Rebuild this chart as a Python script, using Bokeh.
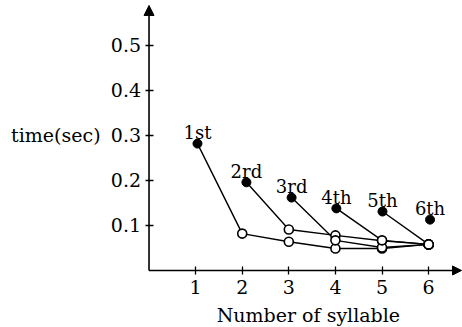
from bokeh.plotting import figure
from bokeh.models import Range1d, FixedTicker, Arrow, NormalHead, Label, ColumnDataSource
from bokeh.core.properties import value
from bokeh.embed import file_html
from bokeh.resources import INLINE

# ---- data ----
syllables = [1, 2, 3, 4, 5, 6]
series_labels = ["1st", "2rd", "3rd", "4th", "5th", "6th"]
first_x = [1.04, 2.09, 3.06, 4.02, 5.01, 6.03]
first_t = [0.282, 0.196, 0.162, 0.138, 0.131, 0.113]
later_t = [
    [0.082, 0.064, 0.049, 0.049, 0.058],  # 1st, syllables 2..6
    [0.091, 0.078, 0.066, 0.058],         # 2rd, syllables 3..6
    [0.067, 0.051, 0.058],                # 3rd, syllables 4..6
    [0.067, 0.058],                       # 4th, syllables 5..6
    [0.058],                              # 5th, syllable 6
    [],                                   # 6th
]
y_ticks = [0.1, 0.2, 0.3, 0.4, 0.5]
y_tick_labels = ["0.1", "0.2", "0.3", "0.4", "0.5"]
x_tick_labels = ["1", "2", "3", "4", "5", "6"]

FONT = "DejaVu Serif"

X0, X1 = -3.187, 6.727
Y0, Y1 = -0.1267, 0.6

p = figure(width=462, height=327, x_range=Range1d(X0, X1), y_range=Range1d(Y0, Y1),
           output_backend="svg", toolbar_location=None, min_border=0,
           background_fill_color="white", border_fill_color="white")
p.outline_line_color = None
p.grid.visible = False

for ax in (p.xaxis[0], p.yaxis[0]):
    ax.fixed_location = 0
    ax.axis_line_color = None
    ax.major_tick_in = 4
    ax.major_tick_out = 4
    ax.major_tick_line_width = 1.3
    ax.major_tick_line_color = "black"
    ax.minor_tick_line_color = None
    ax.major_label_text_font = FONT
    ax.major_label_text_font_size = "19px"
    ax.major_label_text_color = "black"

p.xaxis.ticker = FixedTicker(ticks=syllables)
p.xaxis.major_label_overrides = {s: l for s, l in zip(syllables, x_tick_labels)}
p.xaxis.major_label_standoff = 6
p.yaxis.ticker = FixedTicker(ticks=y_ticks)
p.yaxis.major_label_overrides = {t: l for t, l in zip(y_ticks, y_tick_labels)}
p.yaxis.major_label_standoff = 4

# axis lines with arrow heads
p.add_layout(Arrow(x_start=0, y_start=0, x_end=6.706, y_end=0, line_width=1.6,
                   end=NormalHead(size=9, fill_color="black", line_color="black", line_width=1)))
p.add_layout(Arrow(x_start=0, y_start=0, x_end=0, y_end=0.589, line_width=1.6,
                   end=NormalHead(size=10, fill_color="black", line_color="black", line_width=1)))

# series
open_x, open_y = [], []
for i in range(len(series_labels)):
    xs = [first_x[i]] + syllables[i + 1:]
    ys = [first_t[i]] + later_t[i]
    if len(xs) > 1:
        p.line(xs, ys, line_color="black", line_width=1.4)
    open_x += syllables[i + 1:]
    open_y += later_t[i]

p.scatter(open_x, open_y, size=9, marker="circle", fill_color="white",
          line_color="black", line_width=1.6)
p.scatter(first_x, first_t, size=9, marker="circle", fill_color="black",
          line_color="black")

lab_src = ColumnDataSource(dict(x=first_x, y=first_t, t=series_labels))
p.text(x="x", y="y", text="t", source=lab_src, text_align="center",
       text_baseline="alphabetic", y_offset=-11, text_font=value(FONT),
       text_font_size="18px", text_color="black")

p.add_layout(Label(x=-1.04, y=0.3, text="time(sec)", text_align="right",
                   text_baseline="middle", text_font=FONT, text_font_size="19px",
                   text_color="black"))
p.add_layout(Label(x=3.42, y=-0.099, text="Number of syllable", text_align="center",
                   text_baseline="alphabetic", text_font=FONT, text_font_size="19px",
                   text_color="black"))

open("out.html", "w").write(file_html(p, INLINE))
